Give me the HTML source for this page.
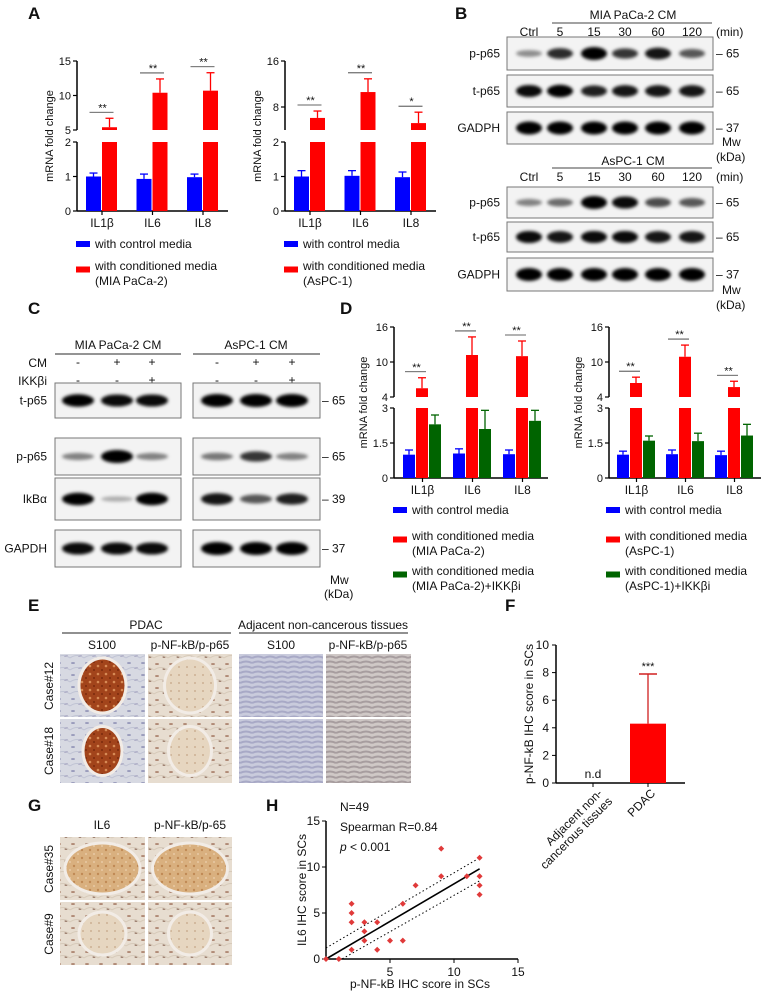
<!DOCTYPE html>
<html><head><meta charset="utf-8"><style>
html,body{margin:0;padding:0;background:#fff;}
svg{display:block;font-family:"Liberation Sans",Arial,sans-serif;}
text{fill:#111;}
</style></head><body>
<svg id="fig" width="764" height="996" viewBox="0 0 764 996" xmlns="http://www.w3.org/2000/svg">
<defs>
<filter id="blur1" x="-20%" y="-100%" width="140%" height="300%"><feGaussianBlur stdDeviation="1.6"/></filter>
<pattern id="stromaBlue" width="14" height="12" patternUnits="userSpaceOnUse">
<rect width="14" height="12" fill="#d7d9e2"/><ellipse cx="3" cy="3" rx="2" ry="1" fill="#9a9cbc"/><ellipse cx="10" cy="8" rx="2" ry="1" fill="#a9a6c2"/><path d="M0 10 Q7 5 14 10" stroke="#c0c3d4" fill="none"/></pattern>
<pattern id="stromaBeige" width="14" height="12" patternUnits="userSpaceOnUse">
<rect width="14" height="12" fill="#e7ddd0"/><ellipse cx="3" cy="4" rx="2" ry="1" fill="#b08a76"/><ellipse cx="10" cy="9" rx="1.5" ry="1" fill="#9f8272"/><path d="M0 10 Q7 5 14 10" stroke="#d7cab9" fill="none"/></pattern>
<pattern id="tissueBlue" width="12" height="10" patternUnits="userSpaceOnUse">
<rect width="12" height="10" fill="#c9cbdc"/><path d="M0 3 Q6 0 12 3 M0 8 Q6 5 12 8" stroke="#a8a9c6" stroke-width="2" fill="none"/></pattern>
<pattern id="tissueGrey" width="12" height="10" patternUnits="userSpaceOnUse">
<rect width="12" height="10" fill="#cfc8c6"/><path d="M0 3 Q6 0 12 3 M0 8 Q6 5 12 8" stroke="#a79d9f" stroke-width="2" fill="none"/></pattern>
<pattern id="nerveBrown" width="8" height="8" patternUnits="userSpaceOnUse">
<rect width="8" height="8" fill="#a2441b"/><circle cx="2" cy="2" r="1.3" fill="#d78a55"/><circle cx="6" cy="6" r="1" fill="#7a2a0c"/></pattern>
<pattern id="nerveTan" width="8" height="8" patternUnits="userSpaceOnUse">
<rect width="8" height="8" fill="#d9b07f"/><circle cx="2" cy="2" r="1.2" fill="#c08a55"/><circle cx="6" cy="6" r="1" fill="#e8c9a4"/></pattern>
<pattern id="nervePale" width="8" height="8" patternUnits="userSpaceOnUse">
<rect width="8" height="8" fill="#e6d6c0"/><circle cx="3" cy="3" r="1" fill="#cbb093"/></pattern>
</defs>

<g font-weight="bold" font-size="17">
<text x="28" y="19">A</text>
<text x="455" y="19">B</text>
<text x="28" y="314">C</text>
<text x="340" y="314">D</text>
<text x="28" y="611">E</text>
<text x="505" y="611">F</text>
<text x="28" y="811">G</text>
<text x="266" y="811">H</text>
</g>
<g id="layer"></g>
</svg>
<script>
// ===== Data =====
const catsIL = ['IL1β','IL6','IL8'];
const aMiaCtrl = [1.0, 0.93, 0.98];
const aMiaCtrlErr = [0.1, 0.14, 0.09];
const aMiaCM = [5.4, 10.4, 10.7];
const aMiaCMErr = [1.3, 2.0, 2.6];
const aMiaSig = ['**','**','**'];
const aAspCtrl = [1.0, 1.02, 0.98];
const aAspCtrlErr = [0.17, 0.15, 0.15];
const aAspCM = [6.1, 10.6, 5.2];
const aAspCMErr = [1.2, 2.3, 1.9];
const aAspSig = ['**','**','*'];
const dMiaCtrl = [1.0, 1.05, 1.02];
const dMiaCtrlErr = [0.2, 0.2, 0.18];
const dMiaCM = [5.5, 11.2, 11.0];
const dMiaCMErr = [1.8, 3.1, 2.6];
const dMiaInh = [2.3, 2.1, 2.45];
const dMiaInhErr = [0.4, 0.8, 0.45];
const dAspCtrl = [1.0, 1.02, 0.98];
const dAspCtrlErr = [0.15, 0.18, 0.17];
const dAspCM = [6.4, 10.9, 5.7];
const dAspCMErr = [1.0, 2.0, 1.0];
const dAspInh = [1.6, 1.58, 1.82];
const dAspInhErr = [0.2, 0.34, 0.48];
const fCats = ['Adjacent non-cancerous tissues','PDAC'];
const fVals = [0, 4.3];
const fErr = [0, 3.6];
const fTicks = [0,2,4,6,8,10];
const hX = [0,1,2,2,2,2,3,3,3,4,4,5,6,6,7,9,9,11,12,12,12,12];
const hY = [0,0,1,4,5,6,2,3,4,1,4,2,2,6,8,9,12,9,7,8,9,11];
const hFit = [0, 9.8];
const hTicks = [0,5,10,15];
const bMiaP = [0.3,0.75,1.0,0.7,0.85,0.55];
const bMiaT = [0.9,0.95,0.8,0.85,0.85,0.85];
const bAspP = [0.35,0.45,1.0,0.9,0.6,0.55];
const bAspT = [0.9,0.85,0.9,0.9,0.85,0.85];
const bG = [1,1,1,1,1,1];
const cMiaT=[0.95,0.9,0.9], cMiaP=[0.35,1.0,0.35], cMiaI=[0.95,0.15,0.95], cMiaG=[0.9,0.9,0.9];
const cAspT=[1,1,1], cAspP=[0.4,0.7,0.35], cAspI=[0.85,0.55,0.8], cAspG=[1,1,1];

const NS='http://www.w3.org/2000/svg';
const layer=document.getElementById('layer');
function mk(tag, attrs, parent){
  const e=document.createElementNS(NS,tag);
  for(const k in attrs) e.setAttribute(k, attrs[k]);
  (parent||layer).appendChild(e);
  return e;
}
function txt(x,y,s,size,anchor,parent,extra){
  const t=mk('text',Object.assign({x:x,y:y,'font-size':size||11,'text-anchor':anchor||'start'},extra||{}),parent);
  t.textContent=s;
  return t;
}

function brokenChart(cfg){
  const g=mk('g',{});
  
  
  const lo=cfg.lo, hi=cfg.hi;
  function y(v){
    if(v<=lo.max) return lo.y0 + (v-lo.min)/(lo.max-lo.min)*(lo.y1-lo.y0);
    if(v<hi.min) return lo.y1;
    return hi.y0 + (v-hi.min)/(hi.max-hi.min)*(hi.y1-hi.y0);
  }
  mk('line',{x1:cfg.ax,y1:lo.y0,x2:cfg.ax,y2:lo.y1,stroke:'#000','stroke-width':1.5},g);
  mk('line',{x1:cfg.ax,y1:hi.y0,x2:cfg.ax,y2:hi.y1,stroke:'#000','stroke-width':1.5},g);
  mk('line',{x1:cfg.ax,y1:lo.y0,x2:cfg.axEnd,y2:lo.y0,stroke:'#000','stroke-width':1.5},g);
  cfg.loTicks.forEach(v=>{const yy=y(v);mk('line',{x1:cfg.ax-4,y1:yy,x2:cfg.ax,y2:yy,stroke:'#000','stroke-width':1.2},g);txt(cfg.ax-6,yy+4,String(v),11,'end',g);});
  cfg.hiTicks.forEach(v=>{const yy=hi.y0+(v-hi.min)/(hi.max-hi.min)*(hi.y1-hi.y0);mk('line',{x1:cfg.ax-4,y1:yy,x2:cfg.ax,y2:yy,stroke:'#000','stroke-width':1.2},g);txt(cfg.ax-6,yy+4,String(v),11,'end',g);});
  const yt=txt(0,0,'mRNA fold change',11,'middle',g,{transform:`translate(${cfg.ax-cfg.tOff},${(lo.y0+hi.y1)/2}) rotate(-90)`});
  
  
  const n=cfg.series.length, bw=cfg.bw;
  catsIL.forEach((c,i)=>{
    const gx=cfg.x0+i*cfg.step;
    cfg.series.forEach((s,j)=>{
      const v=s.vals[i], e=s.err[i];
      const bx=gx+j*(bw+1);
      const top=y(v);
      if(v>lo.max){
        const r1=mk('rect',{x:bx,y:lo.y1,width:bw,height:lo.y0-lo.y1,fill:s.color},g);
        
        
        const r2=mk('rect',{x:bx,y:top,width:bw,height:hi.y0-top,fill:s.color},g);
        
        
      } else {
        const r=mk('rect',{x:bx,y:top,width:bw,height:lo.y0-top,fill:s.color},g);
        
        
      }
      const et=y(v+e), cx=bx+bw/2;
      mk('line',{x1:cx,y1:top,x2:cx,y2:et,stroke:s.color,'stroke-width':1.3},g);
      mk('line',{x1:cx-4,y1:et,x2:cx+4,y2:et,stroke:s.color,'stroke-width':1.3},g);
    });
    const ctop=y(cfg.series[1].vals[i]+cfg.series[1].err[i]);
    const sy=ctop-6;
    const x1=gx+bw/2-2, x2=gx+bw+1+bw/2+4;
    mk('line',{x1:x1-2,y1:sy,x2:x2,y2:sy,stroke:'#333','stroke-width':0.8},g);
    txt((x1+x2)/2,sy-1,cfg.sig[i],11,'middle',g);
    const lab=txt(gx+(n*(bw+1))/2,lo.y0+16,c,12,'middle',g);
    
    
    mk('line',{x1:gx+(n*(bw+1))/2,y1:lo.y0,x2:gx+(n*(bw+1))/2,y2:lo.y0+4,stroke:'#000','stroke-width':1.2},g);
  });
}
const blue='#0000ff', red='#ff0000', green='#006400';
brokenChart({name:'chart-a-mia',ax:77,axEnd:228,tOff:24,lo:{min:0,max:2,y0:211,y1:142},hi:{min:5,max:15,y0:130,y1:61},
  loTicks:[0,1,2],hiTicks:[5,10,15],x0:86,step:50.5,bw:15,sig:aMiaSig,
  series:[{key:'control',color:blue,vals:aMiaCtrl,err:aMiaCtrlErr},{key:'conditioned',color:red,vals:aMiaCM,err:aMiaCMErr}]});
brokenChart({name:'chart-a-aspc',ax:285,axEnd:436,tOff:24,lo:{min:0,max:2,y0:211,y1:142},hi:{min:4,max:16,y0:130,y1:61},
  loTicks:[0,1,2],hiTicks:[8,16],x0:294,step:50.5,bw:15,sig:aAspSig,
  series:[{key:'control',color:blue,vals:aAspCtrl,err:aAspCtrlErr},{key:'conditioned',color:red,vals:aAspCM,err:aAspCMErr}]});
brokenChart({name:'chart-d-mia',ax:394,axEnd:548,tOff:27,lo:{min:0,max:3,y0:478,y1:408},hi:{min:4,max:16,y0:397,y1:327},
  loTicks:[0,1.5,3],hiTicks:[4,10,16],x0:403,step:50,bw:12,sig:['**','**','**'],
  series:[{key:'control',color:blue,vals:dMiaCtrl,err:dMiaCtrlErr},{key:'conditioned',color:red,vals:dMiaCM,err:dMiaCMErr},{key:'ikk-inhibitor',color:green,vals:dMiaInh,err:dMiaInhErr}]});
brokenChart({name:'chart-d-aspc',ax:609,axEnd:761,tOff:27,lo:{min:0,max:3,y0:478,y1:408},hi:{min:4,max:16,y0:397,y1:327},
  loTicks:[0,1.5,3],hiTicks:[4,10,16],x0:617,step:49,bw:12,sig:['**','**','**'],
  series:[{key:'control',color:blue,vals:dAspCtrl,err:dAspCtrlErr},{key:'conditioned',color:red,vals:dAspCM,err:dAspCMErr},{key:'ikk-inhibitor',color:green,vals:dAspInh,err:dAspInhErr}]});

function legend(x,y,color,lines,name){
  const g=mk('g',{});
  
  
  const off=lines.length>1?7:0;
  mk('rect',{x:x,y:y-7+off*0.5,width:14,height:6,fill:color},g);
  lines.forEach((l,i)=>txt(x+19,y+i*15,l,12,'start',g));
}
legend(76,248,blue,['with control media'],'legend-a-mia-control');
legend(76,270,red,['with conditioned media','(MIA PaCa-2)'],'legend-a-mia-conditioned');
legend(284,248,blue,['with control media'],'legend-a-aspc-control');
legend(284,270,red,['with conditioned media','(AsPC-1)'],'legend-a-aspc-conditioned');
legend(393,514,blue,['with control media'],'legend-d-mia-control');
legend(393,540,red,['with conditioned media','(MIA PaCa-2)'],'legend-d-mia-conditioned');
legend(393,575,green,['with conditioned media','(MIA PaCa-2)+IKKβi'],'legend-d-mia-inhibitor');
legend(606,514,blue,['with control media'],'legend-d-aspc-control');
legend(606,540,red,['with conditioned media','(AsPC-1)'],'legend-d-aspc-conditioned');
legend(606,575,green,['with conditioned media','(AsPC-1)+IKKβi'],'legend-d-aspc-inhibitor');

function blot(x,y,w,h,lanes,intens,name,bandW){
  const g=mk('g',{});
  
  
  mk('rect',{x:x,y:y,width:w,height:h,fill:'#f3f3f3',stroke:'#777','stroke-width':1},g);
  lanes.forEach((lx,i)=>{
    const a=intens[i];
    mk('ellipse',{cx:lx,cy:y+h/2,rx:bandW||13,ry:2+a*4.5,fill:'#000','fill-opacity':Math.min(1,0.15+a*0.9),filter:'url(#blur1)'},g);
  });
}
const bLanes=[529,560,594,625,658,692];
txt(633,19,'MIA PaCa-2 CM',12,'middle');
mk('line',{x1:552,y1:23,x2:712,y2:23,stroke:'#444'});
['Ctrl','5','15','30','60','120'].forEach((s,i)=>{txt(bLanes[i],36,s,12,'middle');txt(bLanes[i],181,s,12,'middle');});
txt(716,36,'(min)',12);txt(716,181,'(min)',12);
txt(633,165,'AsPC-1 CM',12,'middle');
mk('line',{x1:552,y1:168,x2:712,y2:168,stroke:'#444'});
[['p-p65',37,33,bMiaP],['t-p65',75,32,bMiaT],['GADPH',112,32,bG],['p-p65',187,31,bAspP],['t-p65',222,30,bAspT],['GADPH',258,33,bG]].forEach((r,k)=>{
  txt(500,r[1]+r[2]/2+4,r[0],12,'end');
  blot(507,r[1],206,r[2],bLanes,r[3],'blot-b-'+k,13);
  txt(716,r[1]+r[2]/2+4,r[0]==='GADPH'?'– 37':'– 65',12);
});
txt(722,146,'Mw',12);txt(716,161,'(kDa)',12);
txt(722,294,'Mw',12);txt(716,309,'(kDa)',12);

txt(118,349,'MIA PaCa-2 CM',12,'middle');
mk('line',{x1:55,y1:354,x2:181,y2:354,stroke:'#555','stroke-width':1.3});
txt(256,349,'AsPC-1 CM',12,'middle');
mk('line',{x1:193,y1:354,x2:320,y2:354,stroke:'#555','stroke-width':1.3});
const cL=[78,117,152], cR=[217,256,292];
txt(47,367,'CM',12,'end');txt(47,385,'IKKβi',12,'end');
[['-','+','+'],['-','-','+']].forEach((row,ri)=>row.forEach((s,i)=>{txt(cL[i],366+ri*18,s,12,'middle');txt(cR[i],366+ri*18,s,12,'middle');}));
[['t-p65',383,35,cMiaT,cAspT,'– 65'],['p-p65',438,37,cMiaP,cAspP,'– 65'],['IkBα',478,42,cMiaI,cAspI,'– 39'],['GAPDH',530,37,cMiaG,cAspG,'– 37']].forEach((r,k)=>{
  txt(47,r[1]+r[2]/2+4,r[0],12,'end');
  blot(55,r[1],126,r[2],cL,r[3],'blot-c-mia-'+k,16);
  blot(193,r[1],127,r[2],cR,r[4],'blot-c-aspc-'+k,16);
  txt(322,r[1]+r[2]/2+4,r[5],12);
});
txt(330,584,'Mw',12);txt(324,598,'(kDa)',12);

function micro(x,y,w,h,bg,nerve,nrx,nry,name){
  const g=mk('g',{});
  
  
  mk('rect',{x:x,y:y,width:w,height:h,fill:`url(#${bg})`},g);
  if(nerve){
    mk('ellipse',{cx:x+w/2,cy:y+h/2,rx:nrx+3,ry:nry+3,fill:'#f2ece6'},g);
    mk('ellipse',{cx:x+w/2,cy:y+h/2,rx:nrx,ry:nry,fill:`url(#${nerve})`},g);
  }
}
txt(146,629,'PDAC',12,'middle');
mk('line',{x1:62,y1:633,x2:231,y2:633,stroke:'#222'});
txt(323,629,'Adjacent non-cancerous tissues',12,'middle');
mk('line',{x1:239,y1:633,x2:408,y2:633,stroke:'#222'});
[[102,'S100'],[190,'p-NF-kB/p-p65'],[281,'S100'],[368,'p-NF-kB/p-p65']].forEach(c=>txt(c[0],649,c[1],12,'middle'));
micro(60,654,85,63,'stromaBlue','nerveBrown',22,26,'ihc-e-case12-s100');
micro(148,654,84,63,'stromaBeige','nervePale',24,26,'ihc-e-case12-pnfkb');
micro(239,654,84,63,'tissueBlue',null,0,0,'ihc-e-adj-case12-s100');
micro(326,654,85,63,'tissueGrey',null,0,0,'ihc-e-adj-case12-pnfkb');
micro(60,719,85,64,'stromaBlue','nerveBrown',18,23,'ihc-e-case18-s100');
micro(148,719,84,64,'stromaBeige','nervePale',20,23,'ihc-e-case18-pnfkb');
micro(239,719,84,64,'tissueBlue',null,0,0,'ihc-e-adj-case18-s100');
micro(326,719,85,64,'tissueGrey',null,0,0,'ihc-e-adj-case18-pnfkb');
txt(0,0,'Case#12',12,'middle',layer,{transform:'translate(53,686) rotate(-90)'});
txt(0,0,'Case#18',12,'middle',layer,{transform:'translate(53,751) rotate(-90)'});
txt(102,829,'IL6',12,'middle');txt(190,829,'p-NF-kB/p-65',12,'middle');
micro(60,837,85,63,'stromaBeige','nerveTan',36,24,'ihc-g-case35-il6');
micro(148,837,84,63,'stromaBeige','nerveTan',36,24,'ihc-g-case35-pnfkb');
micro(60,902,85,63,'stromaBeige','nervePale',22,20,'ihc-g-case9-il6');
micro(148,902,84,63,'stromaBeige','nervePale',20,20,'ihc-g-case9-pnfkb');
txt(0,0,'Case#35',12,'middle',layer,{transform:'translate(53,869) rotate(-90)'});
txt(0,0,'Case#9',12,'middle',layer,{transform:'translate(53,934) rotate(-90)'});

(function(){
  const g=mk('g',{});
  
  
  const ax=556, y0=783, y10=645, xEnd=685;
  const y=v=>y0+(v/10)*(y10-y0);
  mk('line',{x1:ax,y1:y0,x2:ax,y2:y10,stroke:'#000','stroke-width':1.5},g);
  mk('line',{x1:ax,y1:y0,x2:xEnd,y2:y0,stroke:'#000','stroke-width':1.5},g);
  fTicks.forEach(v=>{mk('line',{x1:ax-4,y1:y(v),x2:ax,y2:y(v),stroke:'#000'},g);txt(ax-7,y(v)+4,String(v),12,'end',g);});
  const yt=txt(0,0,'p-NF-kB IHC score in SCs',12,'middle',g,{transform:`translate(533,${(y0+y10)/2}) rotate(-90)`});
  
  
  const cx=[593,648];
  fVals.forEach((v,i)=>{
    mk('line',{x1:cx[i],y1:y0,x2:cx[i],y2:y0+4,stroke:'#000'},g);
    if(v>0){
      const r=mk('rect',{x:cx[i]-18,y:y(v),width:36,height:y0-y(v),fill:red},g);
      
      
      const et=y(v+fErr[i]);
      mk('line',{x1:cx[i],y1:y(v),x2:cx[i],y2:et,stroke:'#d02020','stroke-width':1.3},g);
      mk('line',{x1:cx[i]-9,y1:et,x2:cx[i]+9,y2:et,stroke:'#d02020','stroke-width':1.5},g);
      txt(cx[i],et-4,'***',11,'middle',g);
    } else txt(cx[i],y0-5,'n.d',12,'middle',g);
  });
  txt(0,0,'Adjacent non-',12,'end',g,{transform:'translate(603,794) rotate(-45)'});
  txt(0,0,'cancerous tissues',12,'end',g,{transform:'translate(613,802) rotate(-45)'});
  txt(0,0,fCats[1],12,'end',g,{transform:'translate(656,794) rotate(-45)'});
})();

(function(){
  const g=mk('g',{});
  
  
  const ox=326, oy=959, xe=518, ye=821;
  const X=v=>ox+v/15*(xe-ox), Y=v=>oy-v/15*(oy-ye);
  mk('line',{x1:ox,y1:oy,x2:ox,y2:ye,stroke:'#000','stroke-width':1.5},g);
  mk('line',{x1:ox,y1:oy,x2:xe,y2:oy,stroke:'#000','stroke-width':1.5},g);
  hTicks.forEach(v=>{
    mk('line',{x1:ox-4,y1:Y(v),x2:ox,y2:Y(v),stroke:'#000'},g);txt(ox-6,Y(v)+4,String(v),12,'end',g);
    if(v>0){mk('line',{x1:X(v),y1:oy,x2:X(v),y2:oy+4,stroke:'#000'},g);txt(X(v),oy+17,String(v),12,'middle',g);}
  });
  txt(420,988,'p-NF-kB IHC score in SCs',12,'middle',g);
  txt(0,0,'IL6 IHC score in SCs',12,'middle',g,{transform:`translate(306,${(oy+ye)/2}) rotate(-90)`});
  txt(340,811,'N=49',12,'start',g);
  txt(340,831,'Spearman R=0.84',12,'start',g);
  const p=txt(340,851,'',12,'start',g);
  p.innerHTML='<tspan font-style="italic">p</tspan> &lt; 0.001';
  mk('line',{x1:X(0),y1:Y(1.2),x2:X(12),y2:Y(hFit[1]+1.2),stroke:'#000','stroke-dasharray':'1.5,2.5'},g);
  mk('line',{x1:X(1),y1:Y(-0.2),x2:X(12),y2:Y(hFit[1]-1.3),stroke:'#000','stroke-dasharray':'1.5,2.5'},g);
  const fit=mk('line',{x1:X(0),y1:Y(hFit[0]),x2:X(12),y2:Y(hFit[1]),stroke:'#000','stroke-width':1.6},g);
  
  
  hX.forEach((xv,i)=>{
    const cx=X(xv), cy=Y(hY[i]);
    const d=mk('path',{d:`M${cx} ${cy-3}L${cx+3} ${cy}L${cx} ${cy+3}L${cx-3} ${cy}Z`,fill:'#e03a3a'},g);
    
    
  });
})();
</script>
</body></html>
